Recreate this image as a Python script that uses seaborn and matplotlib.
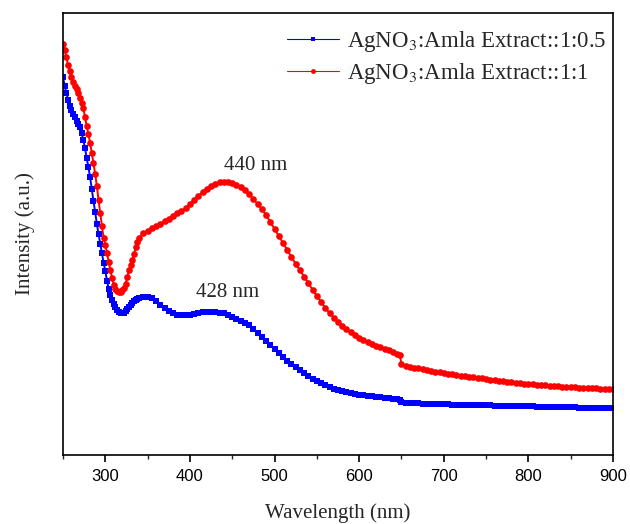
import numpy as np
import pandas as pd
import matplotlib
matplotlib.use("Agg")
import matplotlib.pyplot as plt
import seaborn as sns
from matplotlib.ticker import MultipleLocator

# wavelength grid (nm) as sampled in the spectra
wavelength = [250, 252, 254, 256, 258, 260, 262, 264, 266, 268, 270, 272, 274, 276, 278, 280,
              282, 284, 286, 288, 290, 292, 294, 296, 298, 300, 302, 304, 306, 308, 310, 312,
              314, 316, 318, 320, 322, 324, 326, 328, 330, 332, 334, 336, 338, 340,
              345, 350, 355, 360, 365, 370, 375, 380, 385, 390, 395, 400, 405, 410, 415, 420,
              425, 430, 435, 440, 445, 450, 455, 460, 465, 470, 475, 480, 485, 490, 495, 500,
              505, 510, 515, 520, 525, 530, 535, 540, 545, 550, 555, 560, 565, 570, 575, 580,
              585, 590, 595, 600, 605, 610, 615, 620, 625, 630, 635, 640, 645, 648,
              650, 655, 660, 665, 670, 675, 680, 685, 690, 695, 700, 705, 710, 715, 720, 725,
              730, 735, 740, 745, 750, 755, 760, 765, 770, 775, 780, 785, 790, 795, 800, 805,
              810, 815, 820, 825, 830, 835, 840, 845, 850, 855, 860, 865, 870, 875, 880, 885,
              890, 895, 900]

# AgNO3 : Amla extract 1:0.5 (blue)
ratio_05 = [378, 369, 362, 355, 349, 345, 341, 338, 334, 331, 328, 322, 315, 307, 297, 288,
            278, 266, 254, 243, 231, 221, 211, 202, 192, 184, 174, 166, 160, 155, 151, 148,
            145, 143, 142, 142, 142, 144, 146, 148, 150, 152, 154, 155, 156, 157,
            158, 158, 157, 154, 150, 147, 144, 142, 140, 140, 140, 140, 141, 142, 143, 143,
            143, 143, 142, 142, 140, 138, 136, 134, 132, 130, 126, 122, 118, 114, 110, 106,
            102, 98, 94, 91, 88, 85, 82, 79, 76, 74, 72, 70, 68, 66, 65, 64,
            63, 62, 61, 60, 60, 59, 59, 58, 58, 57, 57, 56, 56, 55,
            53, 52, 52, 52, 52, 51, 51, 51, 51, 51, 51, 51, 50, 50, 50, 50,
            50, 50, 50, 50, 50, 50, 49, 49, 49, 49, 49, 49, 49, 49, 49, 49,
            48, 48, 48, 48, 48, 48, 48, 48, 48, 48, 47, 47, 47, 47, 47, 47,
            47, 47, 47]

# AgNO3 : Amla extract 1:1 (red)
ratio_1 = [411, 405, 398, 390, 384, 378, 373, 369, 366, 362, 357, 352, 347, 338, 329, 321,
           312, 302, 292, 281, 269, 255, 242, 229, 217, 210, 202, 193, 185, 177, 170, 166,
           164, 163, 163, 165, 167, 171, 178, 185, 190, 195, 201, 208, 213, 217,
           222, 224, 227, 229, 231, 234, 236, 239, 242, 244, 247, 251, 255, 259, 263, 266,
           269, 271, 273, 273, 273, 272, 270, 268, 265, 261, 256, 251, 246, 240, 233, 226,
           219, 212, 205, 198, 191, 185, 178, 172, 165, 159, 153, 147, 142, 137, 133, 129,
           126, 123, 120, 117, 115, 113, 111, 109, 108, 106, 105, 103, 101, 100,
           91, 89, 88, 87, 87, 86, 85, 84, 83, 83, 82, 81, 81, 80, 79, 79,
           78, 78, 77, 77, 76, 75, 75, 74, 74, 73, 73, 72, 72, 71, 71, 71,
           70, 70, 70, 69, 69, 69, 68, 68, 68, 68, 67, 67, 67, 67, 67, 66,
           66, 66, 66]

labels = [r"AgNO$_3$:Amla Extract::1:0.5", r"AgNO$_3$:Amla Extract::1:1"]
peaks = ["440 nm", "428 nm"]

sns.set_theme(style="ticks")
plt.rcParams["font.family"] = ["Liberation Serif", "DejaVu Serif"]
plt.rcParams["mathtext.fontset"] = "stix"

fig = plt.figure(figsize=(6.3, 5.24), dpi=100)
ax = fig.add_axes([0.1, 0.132, 0.873, 0.843])

sns.lineplot(x=wavelength, y=ratio_05, ax=ax, color="#0000ff", linewidth=1.4,
             marker="s", markersize=4.4, markeredgewidth=0, label=labels[0])
sns.lineplot(x=wavelength, y=ratio_1, ax=ax, color="#ff0000", linewidth=1.4,
             marker="o", markersize=4.8, markeredgewidth=0, label=labels[1])

ax.text(478, 290, peaks[0], fontsize=15, ha="center", va="center")
ax.text(444, 162, peaks[1], fontsize=15, ha="center", va="center")

ax.set_xlim(250, 900)
ax.set_ylim(0, 442)
ax.xaxis.set_minor_locator(MultipleLocator(50))
ax.set_xticks([300, 400, 500, 600, 700, 800, 900])
ax.set_yticks([])
ax.tick_params(axis="x", which="major", direction="out", length=5, width=1.2,
               labelsize=12, colors="black", pad=5)
ax.tick_params(axis="x", which="minor", direction="out", length=3, width=1.0)
for lab in ax.get_xticklabels():
    lab.set_fontfamily("Liberation Sans")

for s in ax.spines.values():
    s.set_visible(True)
    s.set_linewidth(1.2)
    s.set_color("black")

ax.set_xlabel("Wavelength (nm)", fontsize=15, labelpad=14)
ax.set_ylabel("Intensity (a.u.)", fontsize=15, labelpad=20)

leg = ax.legend(loc="upper right", bbox_to_anchor=(1.018, 1.0), frameon=False, fontsize=16.5,
                handlelength=2.3, handletextpad=0.35, labelspacing=0.3, borderaxespad=0.3)
for h in leg.get_lines():
    h.set_linewidth(0.8)
    h.set_markersize(3.5)

plt.savefig("out.png", dpi=100)
